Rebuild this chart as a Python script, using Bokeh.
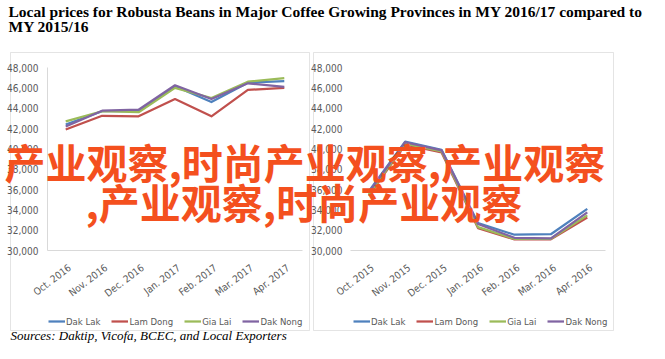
from bokeh.plotting import figure
from bokeh.models import Range1d, Legend, LegendItem, BoxAnnotation
from bokeh.embed import file_html
from bokeh.resources import INLINE
from bokeh.core.properties import value

# ---------------- data ----------------
title_lines = ["Local prices for Robusta Beans in Major Coffee Growing Provinces in MY 2016/17 compared to",
               "MY 2015/16"]
source_text = "Sources: Daktip, Vicofa, BCEC, and Local Exporters"
watermark_lines = ["产业观察,时尚产业观察,产业观察", ",产业观察,时尚产业观察"]

provinces = ["Dak Lak", "Lam Dong", "Gia Lai", "Dak Nong"]
colors = ["#4F81BD", "#C0504D", "#9BBB59", "#8064A2"]

months_1617 = ["Oct. 2016", "Nov. 2016", "Dec. 2016", "Jan. 2017", "Feb. 2017", "Mar. 2017", "Apr. 2017"]
months_1516 = ["Oct. 2015", "Nov. 2015", "Dec. 2015", "Jan. 2016", "Feb. 2016", "Mar. 2016", "Apr. 2016"]

dak_lak_1617 = [42400, 43700, 43700, 46150, 44600, 46500, 46650]
lam_dong_1617 = [41900, 43250, 43200, 44900, 43200, 45800, 46000]
gia_lai_1617 = [42700, 43700, 43600, 46000, 45000, 46600, 46950]
dak_nong_1617 = [42200, 43750, 43850, 46250, 44900, 46450, 46100]

dak_lak_1516 = [35800, 40700, 39900, 32700, 31550, 31600, 34100]
lam_dong_1516 = [35400, 40400, 39650, 32200, 31100, 31100, 33250]
gia_lai_1516 = [35500, 40500, 39750, 32300, 31150, 31150, 33450]
dak_nong_1516 = [35700, 40650, 39850, 32600, 31250, 31200, 33750]

y_ticks = [30000, 32000, 34000, 36000, 38000, 40000, 42000, 44000, 46000, 48000]
y_min, y_max = 30000, 48000

# ---------------- layout (pixels of the picture) ----------------
W, H = 649, 343
PX0, PY0 = 0, 0
PX1, PY1 = PX0 + W, PY0 + H
PLOT_TOP, PLOT_BOTTOM = 67, 250      # value axis extent
LEFT_PLOT = (47, 302)
RIGHT_PLOT = (350, 605)

NARROW = "'Liberation Sans Narrow', 'DejaVu Sans Condensed', 'Liberation Sans', sans-serif"
SERIF = "'Liberation Serif', 'Times New Roman', serif"
CJK = "'Noto Sans CJK SC', sans-serif"
TXT = "#595959"
WM_COLOR = "#F4501E"
AXIS = "#d9d9d9"
LBL = "9.5px"

p = figure(width=W, height=H, x_range=Range1d(PX0, PX1), y_range=Range1d(PY1, PY0),
           x_axis_type=None, y_axis_type=None, min_border=0,
           output_backend="svg", toolbar_location=None)
p.outline_line_color = None
p.grid.visible = False
p.background_fill_color = "white"
p.border_fill_color = "white"

# value range: y_min -> PLOT_BOTTOM, y_max -> PLOT_TOP, stretched over the canvas
per_px = (y_max - y_min) / (PLOT_BOTTOM - PLOT_TOP)
p.extra_y_ranges = {"val": Range1d(y_min - (PY1 - PLOT_BOTTOM) * per_px,
                                   y_max + (PLOT_TOP - PY0) * per_px)}


def band_range(plot, n):
    band = (plot[1] - plot[0]) / n
    return Range1d((PX0 - plot[0]) / band - 0.5, (PX1 - plot[0]) / band - 0.5)


p.extra_x_ranges = {"xl": band_range(LEFT_PLOT, len(months_1617)),
                    "xr": band_range(RIGHT_PLOT, len(months_1516))}

# panel borders (underlay)
for l, r in [(10, 309), (313, 613)]:
    p.add_layout(BoxAnnotation(left=l, right=r, top=52, bottom=330, fill_alpha=0,
                               line_color="#a6a6a6", line_width=1, level="underlay"))


def chart(xname, months, series, show_yline, label_x, legend_x):
    idx = list(range(len(months)))
    n = len(months)
    p.segment(x0=[-0.5], y0=[y_min], x1=[n - 0.5], y1=[y_min], x_range_name=xname,
              y_range_name="val", line_color=AXIS, line_width=1)
    if show_yline:
        p.segment(x0=[-0.5], y0=[y_min], x1=[-0.5], y1=[y_max], x_range_name=xname,
                  y_range_name="val", line_color=AXIS, line_width=1)
    p.text(x=[label_x] * len(y_ticks), y=y_ticks, text=[f"{t:,}" for t in y_ticks],
           y_range_name="val", text_align="right", text_baseline="middle",
           text_font=value(NARROW), text_font_size="10px", text_color=TXT)
    p.text(x=idx, y=[266] * n, text=months, x_range_name=xname, angle=0.65,
           x_offset=4, text_align="right", text_baseline="middle",
           text_font=value(NARROW), text_font_size="10px", text_color=TXT)
    items = []
    for name, col, vals in zip(provinces, colors, series):
        r = p.line(x=idx, y=vals, x_range_name=xname, y_range_name="val",
                   line_color=col, line_width=2.25, line_join="round")
        items.append(LegendItem(label=name, renderers=[r]))
    leg = Legend(items=items, location=(legend_x - PX0, PY1 - 327), orientation="horizontal",
                 glyph_width=17, glyph_height=10, label_standoff=1, spacing=11,
                 padding=0, margin=0, border_line_color=None, background_fill_alpha=0,
                 label_text_font=NARROW, label_text_font_size=LBL,
                 label_text_color=TXT, label_height=12)
    p.add_layout(leg)


chart("xl", months_1617, [dak_lak_1617, lam_dong_1617, gia_lai_1617, dak_nong_1617], True, 38, 48)
chart("xr", months_1516, [dak_lak_1516, lam_dong_1516, gia_lai_1516, dak_nong_1516], False, 342, 353)

# title
p.text(x=[8, 8], y=[10.5, 26], text=title_lines, text_font=value(SERIF), text_font_style="bold",
       text_font_size="15.5px", text_color="black", text_baseline="alphabetic")

# source
p.text(x=[10], y=[334.5], text=[source_text], text_font=value(SERIF), text_font_style="italic",
       text_font_size="13px", text_color="black", text_baseline="alphabetic")

# watermark
p.text(x=[4, 85], y=[160, 200], text=watermark_lines, text_font=value(CJK), text_font_style="bold",
       text_font_size="41px", text_color=WM_COLOR, text_baseline="alphabetic")

open("out.html", "w").write(file_html(p, INLINE))
